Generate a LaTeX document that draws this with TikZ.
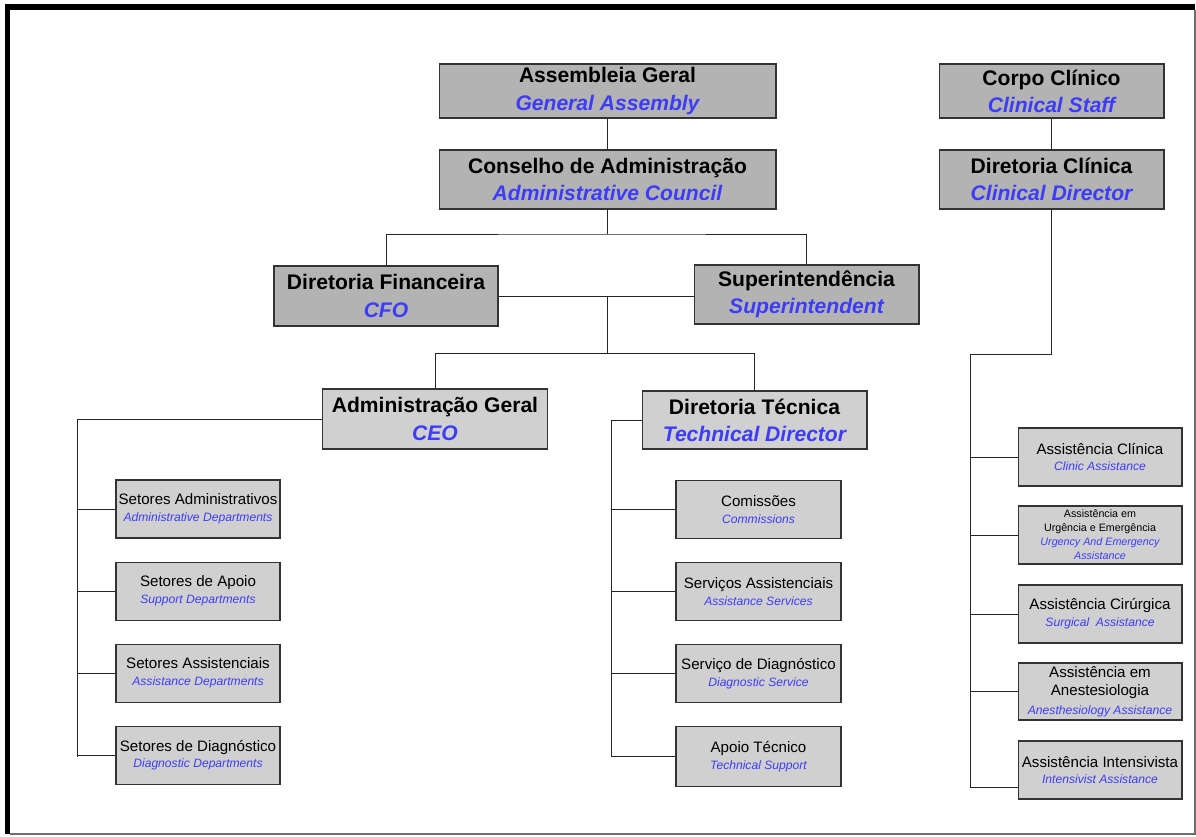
\documentclass[tikz,border=0pt]{standalone}
\usepackage{fontspec}
\setmainfont{Liberation Sans}
\usepackage{tikz}
\usetikzlibrary{positioning}
\usepackage{xcolor}
\definecolor{engblue}{RGB}{60,60,250}
\definecolor{darkbox}{RGB}{179,179,179}
\definecolor{lightbox}{RGB}{208,208,208}
\definecolor{framegray}{RGB}{110,110,110}
\newcommand{\hdrfont}{\fontsize{12}{15.5}\selectfont\bfseries}
\newcommand{\subfont}{\fontsize{8.6}{9.5}\selectfont}
\newcommand{\enbig}[1]{\textcolor{engblue}{\itshape #1}}
\newcommand{\ensmall}[1]{\textcolor{engblue}{\fontsize{6.9}{9.5}\selectfont\itshape #1}}

\begin{document}
\begin{tikzpicture}[x=0.02cm, y=-0.02cm,
  box/.style={draw=black!80, line width=0.6pt, inner sep=0pt, align=center},
  topbox/.style={box, fill=darkbox, font=\hdrfont},
  midbox/.style={box, fill=lightbox, font=\hdrfont,
    minimum width=4.5cm, minimum height=1.18cm},
  deptbox/.style={box, fill=lightbox, font=\subfont,
    minimum width=3.28cm, minimum height=1.16cm},
  link/.style={draw=black!85, line width=0.5pt}]
  \useasboundingbox (0,0) rectangle (1196,836);
  % frame
  \fill[black] (5,4) rectangle (1195,10);
  \fill[black] (5,4) rectangle (10,834);
  \draw[framegray, line width=0.8pt] (10,834) -- (1195,834) -- (1195,10);

  % governing boxes
  \node[topbox, minimum width=6.74cm, minimum height=1.08cm] (ag) at (607.5,91)
    {Assembleia Geral\\ \enbig{General Assembly}};
  \node[topbox, minimum width=6.74cm, minimum height=1.18cm] (ca) at (607.5,179.5)
    {Conselho de Administração\\ \enbig{Administrative Council}};
  \node[topbox, minimum width=4.48cm, minimum height=1.2cm] (df) at (386,296)
    {Diretoria Financeira\\ \enbig{CFO}};
  \node[topbox, minimum width=4.5cm, minimum height=1.18cm] (su) at (806.5,294.5)
    {Superintendência\\ \enbig{Superintendent}};
  \node[topbox, minimum width=4.5cm, minimum height=1.08cm] (cc) at (1051.5,91)
    {Corpo Clínico\\ \enbig{Clinical Staff}};
  \node[topbox, minimum width=4.5cm, minimum height=1.18cm] (dc) at (1051.5,179.5)
    {Diretoria Clínica\\ \enbig{Clinical Director}};

  % directors
  \node[midbox, minimum height=1.2cm] (adm) at (435,419)
    {Administração Geral\\ \enbig{CEO}};
  \node[midbox, minimum height=1.16cm] (dt) at (754.5,420)
    {Diretoria Técnica\\ \enbig{Technical Director}};

  % departments under CEO
  \node[deptbox] (sa) at (198,509)
    {Setores Administrativos\\ \ensmall{Administrative Departments}};
  \node[deptbox, below=0.46cm of sa] (sp)
    {Setores de Apoio\\ \ensmall{Support Departments}};
  \node[deptbox, below=0.46cm of sp] (ss)
    {Setores Assistenciais\\ \ensmall{Assistance Departments}};
  \node[deptbox, below=0.46cm of ss] (sd)
    {Setores de Diagnóstico\\ \ensmall{Diagnostic Departments}};

  % departments under technical director
  \node[deptbox, minimum width=3.3cm] (cm) at (758.5,509.5)
    {Comissões\\ \ensmall{Commissions}};
  \node[deptbox, minimum width=3.3cm, below=0.46cm of cm] (sv)
    {Serviços Assistenciais\\ \ensmall{Assistance Services}};
  \node[deptbox, minimum width=3.3cm, below=0.46cm of sv] (dg)
    {Serviço de Diagnóstico\\ \ensmall{Diagnostic Service}};
  \node[deptbox, minimum width=3.3cm, minimum height=1.2cm,
    below=0.46cm of dg] (at)
    {Apoio Técnico\\ \ensmall{Technical Support}};

  % clinical assistance
  \node[deptbox] (acl) at (1100,457)
    {Assistência Clínica\\ \ensmall{Clinic Assistance}};
  \node[deptbox, font=\fontsize{6.1}{8}\selectfont] (aur) at (1100,535)
    {Assistência em\\ Urgência e Emergência\\
     \textcolor{engblue}{\itshape Urgency And Emergency}\\
     \textcolor{engblue}{\itshape Assistance}};
  \node[deptbox] (aci) at (1100,614)
    {Assistência Cirúrgica\\ \ensmall{Surgical\ \ Assistance}};
  \node[deptbox, font=\fontsize{8.6}{10.5}\selectfont,
    minimum height=1.14cm] (ane) at (1100,691.5)
    {Assistência em\\ Anestesiologia\\ \ensmall{Anesthesiology Assistance}};
  \node[deptbox] (ain) at (1100,770)
    {Assistência Intensivista\\ \ensmall{Intensivist Assistance}};

  % junctions
  \coordinate (jtop) at (607.5,234);
  \coordinate (jmid) at (607.5,296);
  \coordinate (jlow) at (607.5,353);
  \coordinate (lb) at (77,757);
  \coordinate (mb) at (611,756);
  \coordinate (rk) at (970,354);
  \coordinate (rb) at (970,787);

  % connectors
  \draw[link] (ag) -- (ca);
  \draw[link] (cc) -- (dc);
  \draw[link] (ca) -- (jtop);
  \draw[link] (df.north) |- (jtop) -| (su.north);
  \draw[link] (df.east |- jmid) -- (su.west |- jmid);
  \draw[link] (jmid) -- (jlow);
  \draw[link] (adm.north) |- (jlow) -| (dt.north);
  \draw[link] (adm.west) -| (lb);
  \draw[link] (dt.west) -| (mb);
  \draw[link] (dc.south) |- (rk) -- (rb);
  \draw[link] (rb) -- (rb -| ain.west);
  \foreach \n in {sa,sp,ss,sd}
    \draw[link] (\n.west) -- (\n.west -| lb);
  \foreach \n in {cm,sv,dg,at}
    \draw[link] (\n.west) -- (\n.west -| mb);
  \foreach \n in {acl,aur,aci,ane}
    \draw[link] (\n.west) -- (\n.west -| rb);
\end{tikzpicture}
\end{document}
